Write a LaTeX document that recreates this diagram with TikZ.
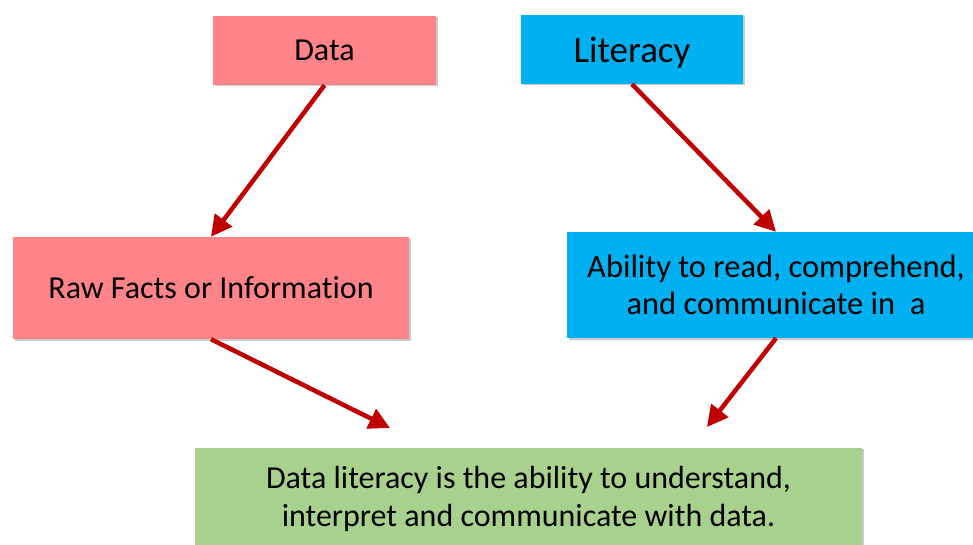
\documentclass[tikz,border=0pt]{standalone}
\usepackage{fontspec}
\setmainfont{Carlito}[Ligatures={NoCommon}]
\usetikzlibrary{arrows.meta,shadows}
\definecolor{rosebox}{HTML}{FF8489}
\definecolor{skybox}{HTML}{00B0F0}
\definecolor{leafbox}{HTML}{A9D18E}
\definecolor{arrowred}{HTML}{C00000}
\begin{document}
\begin{tikzpicture}[x=1pt, y=-1pt,
    card/.style={inner sep=0pt, align=center, font=\fontsize{32}{38}\selectfont,
      drop shadow={shadow xshift=1.5pt, shadow yshift=-1.5pt, opacity=0.3, fill=black!70}},
    link/.style={arrowred, line width=4.5pt, -{Triangle[length=21pt, width=21pt]}}]
  \useasboundingbox (0,0) rectangle (973,545);
  % top row: the two words
  \node[card, fill=rosebox, minimum width=223pt, minimum height=69pt] (data) at (324.5,50.5) {\raisebox{-2pt}{Data}};
  \node[card, fill=skybox, minimum width=222pt, minimum height=69pt, text depth=0pt, font=\fontsize{37}{44}\selectfont] (literacy) at (632,49.5) {Literacy};
  % middle row: meanings
  \node[card, fill=rosebox, minimum width=396pt, minimum height=102pt] (facts) at (211,288) {\raisebox{-2pt}{Raw Facts or Information}};
  \node[card, fill=skybox, minimum width=418pt, minimum height=106pt, font=\fontsize{32.5}{37}\selectfont] (ability) at (776,285) {Ability to read, comprehend,\\ and communicate in\ \ a};
  % bottom: definition
  \node[card, fill=leafbox, minimum width=667pt, minimum height=103pt] (defn) at (528.5,499) {Data literacy is the ability to understand,\\ interpret and communicate with data.};
  \coordinate (inleft) at (390,428);
  \coordinate (inright) at (707,427);
  % arrows
  \draw[link] (data.south) -- (facts.north);
  \draw[link] (literacy.south) -- (ability.north);
  \draw[link] (facts.south) -- (inleft);
  \draw[link] (ability.south) -- (inright);
\end{tikzpicture}
\end{document}
